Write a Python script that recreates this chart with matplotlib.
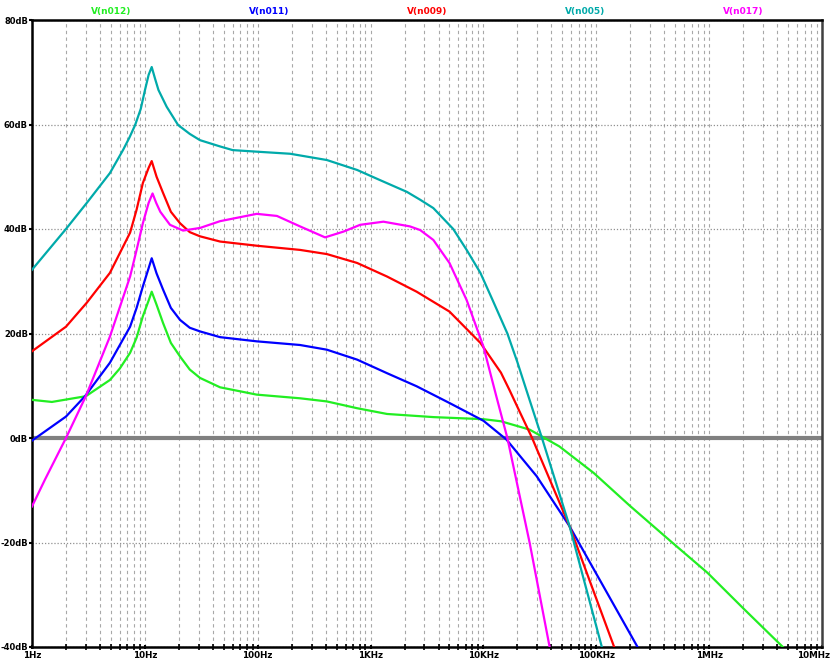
import numpy as np
import matplotlib
matplotlib.use('Agg')
import matplotlib.pyplot as plt
from matplotlib.ticker import LogLocator, NullFormatter
from matplotlib.transforms import ScaledTranslation

# trace data (frequency in Hz, magnitude in dB)
f_n005 = [1, 2, 3.06, 4.9, 6.4, 7.3, 8.2, 9.2, 10, 10.8, 11.5, 12.3, 13.2, 15.6, 19.7, 25, 30.8, 46.4, 60, 98,
          194, 410, 760, 1200, 2100, 2750, 3600, 5400, 7100, 9400, 12000, 16300, 20000, 24000, 33000, 58000, 112000]
db_n005 = [32.2, 40, 45, 50.7, 55.1, 57.5, 59.9, 63, 66.5, 69.5, 71, 68.8, 66.6, 63.4, 59.9, 58.2, 57, 55.8, 55.1, 54.8,
           54.4, 53.2, 51.3, 49.4, 47.1, 45.6, 44, 40, 36, 31.6, 26.5, 20, 14.5, 9.2, 0, -16.9, -40]

f_n009 = [1, 2, 3.06, 4.9, 7.4, 8.45, 9.6, 10.8, 11.5, 12.7, 14.5, 17, 20.5, 25, 30.8, 46.4, 98, 237, 410, 760,
          1400, 2560, 5000, 9400, 14300, 17000, 21400, 27000, 58000, 144000]
db_n009 = [16.6, 21.3, 25.9, 31.6, 39.3, 43.7, 48.8, 51.7, 53, 50, 46.9, 43.3, 41.1, 39.4, 38.6, 37.6, 36.8, 36, 35.2, 33.5,
           30.9, 28, 24.2, 18.2, 12.5, 9.2, 4.6, 0, -16.9, -40]

f_n011 = [1, 2, 2.95, 4.9, 7.4, 8.45, 9.6, 10.8, 11.5, 12.7, 14.5, 17, 20.5, 25, 30.8, 46.4, 98, 237, 410, 760,
          1400, 2560, 5000, 10000, 16000, 21000, 29600, 58000, 107000, 232000]
db_n011 = [-0.5, 4.1, 8, 14.4, 21.3, 24.9, 29, 32.5, 34.4, 31.5, 28.4, 24.9, 22.6, 21.1, 20.4, 19.3, 18.5, 17.8, 16.9, 15,
           12.4, 9.9, 6.7, 3.3, -0.3, -3.4, -7.3, -16.9, -27.1, -40]

f_n012 = [1, 1.5, 3, 4.9, 6, 7.4, 8.45, 9.6, 10.8, 11.5, 12.7, 14.5, 17, 20.5, 25, 30.8, 46.4, 98, 237, 410, 760,
          1400, 3600, 10000, 14300, 25700, 47000, 95000, 199000, 470000, 967000, 2050000, 4500000]
db_n012 = [7.3, 6.9, 8, 11.1, 13.3, 16.3, 19.2, 23.3, 26.3, 28, 25.5, 22, 18.2, 15.6, 13.1, 11.5, 9.7, 8.3, 7.6, 7, 5.7,
           4.6, 4, 3.6, 3.2, 1.6, -1.6, -6.7, -13, -20, -25.8, -32.8, -40]

f_n017 = [1, 1.3, 2, 3, 4.9, 7.4, 8.45, 9.6, 10.8, 11.7, 12.6, 13.7, 16.7, 21.8, 30.8, 46.4, 98, 148, 237, 395, 575, 808,
          1300, 2230, 2750, 3600, 5000, 7100, 10000, 13000, 16300, 25700, 38600]
db_n017 = [-13.1, -8, 0, 8, 19.4, 30.9, 36, 41.1, 45, 46.8, 45, 43.3, 40.8, 39.7, 40.2, 41.5, 42.9, 42.5, 40.5, 38.4, 39.5, 40.8,
           41.4, 40.5, 39.8, 37.9, 33.5, 26.4, 17.5, 8, 0, -20.1, -40]

trace_names = ['V(n012)', 'V(n011)', 'V(n009)', 'V(n005)', 'V(n017)']
x_ticks = [1, 10, 100, 1e3, 1e4, 1e5, 1e6, 1e7]
x_labels = ['1Hz', '10Hz', '100Hz', '1KHz', '10KHz', '100KHz', '1MHz', '10MHz']
y_ticks = [-40, -20, 0, 20, 40, 60, 80]
y_labels = ['-40dB', '-20dB', '0dB', '20dB', '40dB', '60dB', '80dB']

plt.rcParams['font.family'] = ['Liberation Sans Narrow', 'DejaVu Sans']

fig = plt.figure(figsize=(8.33, 6.66), dpi=100)
ax = fig.add_axes([32 / 833, 1 - 647 / 666, 790 / 833, 627 / 666])

ax.set_xscale('log')
ax.set_xlim(1, 1e7)
ax.set_ylim(-40, 80)

# grid: dashed verticals on every decade step, dotted horizontals
ax.xaxis.set_minor_locator(LogLocator(base=10, subs=np.arange(2, 10)))
ax.xaxis.set_minor_formatter(NullFormatter())
ax.grid(True, which='both', axis='x', color='#a8a8a8', linestyle=(0, (3, 3)), linewidth=0.8)
ax.grid(True, which='major', axis='y', color='#909090', linestyle=(0, (1, 1.5)), linewidth=0.9)

# 0dB reference line
ax.axhline(0, color='#808080', linewidth=3, zorder=2)

traces = [
    (f_n012, db_n012, '#22ee22'),
    (f_n011, db_n011, '#0000ff'),
    (f_n009, db_n009, '#ff0000'),
    (f_n005, db_n005, '#00aaaa'),
    (f_n017, db_n017, '#ff00ff'),
]
for f, db, c in traces:
    ax.plot(f, db, color=c, linewidth=1.6, zorder=3, solid_joinstyle='round')

# trace titles above the plot
for i, (name, (_, _, c)) in enumerate(zip(trace_names, traces)):
    ax.text(0.1 + 0.2 * i, 1.006, name, color=c, transform=ax.transAxes,
            ha='center', va='bottom', fontsize=6.5, fontweight='bold')

ax.set_xticks(x_ticks)
ax.set_xticklabels(x_labels, fontweight='bold')
ax.set_yticks(y_ticks)
ax.set_yticklabels(y_labels, fontweight='bold')
ax.tick_params(axis='x', which='major', labelsize=6.3, length=3.5, width=1.5, pad=0.8)
ax.tick_params(axis='y', which='major', labelsize=6, length=2.5, width=1.5, pad=0.4)
ax.tick_params(axis='x', which='both', direction='inout')
ax.tick_params(axis='x', which='minor', length=4, width=1.2)

# keep the last frequency label inside the canvas
last = ax.get_xticklabels()[-1]
last.set_transform(last.get_transform() + ScaledTranslation(-6 / 72, 0, fig.dpi_scale_trans))

for side in ['left', 'bottom', 'top']:
    ax.spines[side].set_linewidth(1.8)
    ax.spines[side].set_color('black')
ax.spines['right'].set_linewidth(1.8)
ax.spines['right'].set_color('#404040')

plt.savefig('out.png', dpi=100)
